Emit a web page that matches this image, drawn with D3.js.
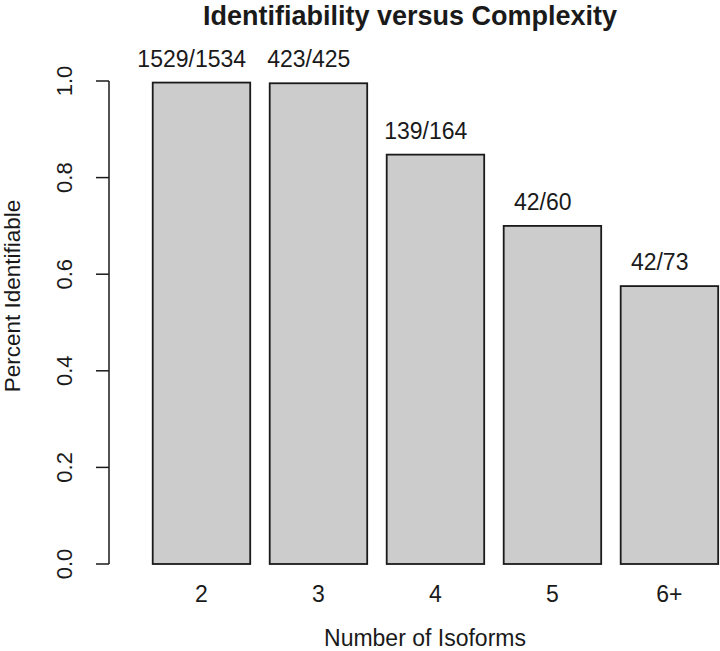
<!DOCTYPE html>
<html>
<head>
<meta charset="utf-8">
<script src="https://cdn.jsdelivr.net/npm/d3@7"></script>
<style>
  body { margin: 0; background: #fff; }
  text { font-family: "Liberation Sans", Arial, sans-serif; fill: #1a1a1a; }
</style>
</head>
<body>
<div id="chart"></div>
<script>
// chart data
const categories = ["2", "3", "4", "5", "6+"];
const identified = [1529, 423, 139, 42, 42];
const totals = [1534, 425, 164, 60, 73];
const yTicks = [0.0, 0.2, 0.4, 0.6, 0.8, 1.0];

const width = 720, height = 651;

const svg = d3.select("#chart")
    .append("svg")
    .attr("width", width)
    .attr("height", height);

// R-style barplot positions: width 1, space 0.2
const bars = categories.map((c, i) => ({
    name: c,
    left: 0.2 + 1.2 * i,
    value: identified[i] / totals[i],
    label: identified[i] + "/" + totals[i]
}));

// x domain extended 4% like R
const x = d3.scaleLinear().domain([-0.032, 6.232]).range([130.1, 740.8]);
const y = d3.scaleLinear().domain([0, 1]).range([564, 81]);

// bars
svg.append("g").selectAll("rect")
    .data(bars)
    .enter()
    .append("rect")
    .attr("x", d => x(d.left))
    .attr("y", d => y(d.value))
    .attr("width", d => x(d.left + 1) - x(d.left))
    .attr("height", d => y(0) - y(d.value))
    .attr("fill", "#cccccc")
    .attr("stroke", "#1a1a1a")
    .attr("stroke-width", 1.8);

// count labels above the bars (shifted a little left, as in the original)
svg.append("g").selectAll("text")
    .data(bars)
    .enter()
    .append("text")
    .attr("x", d => x(d.left + 0.5 - 0.1))
    .attr("y", d => y(d.value) - 16)
    .attr("text-anchor", "middle")
    .style("font-size", "23px")
    .text(d => d.label);

// category names under the bars
svg.append("g").selectAll("text")
    .data(bars)
    .enter()
    .append("text")
    .attr("x", d => x(d.left + 0.5))
    .attr("y", 602)
    .attr("text-anchor", "middle")
    .style("font-size", "23px")
    .text(d => d.name);

// y axis, R style with rotated tick labels
const yAxis = svg.append("g").attr("transform", "translate(109,0)");
yAxis.append("line")
    .attr("x1", 0).attr("x2", 0)
    .attr("y1", y(0)).attr("y2", y(1))
    .attr("stroke", "#1a1a1a")
    .attr("stroke-width", 1.5);
yAxis.selectAll(".tick")
    .data(yTicks)
    .enter()
    .append("line")
    .attr("class", "tick")
    .attr("x1", -13).attr("x2", 0)
    .attr("y1", d => y(d)).attr("y2", d => y(d))
    .attr("stroke", "#1a1a1a")
    .attr("stroke-width", 1.5);
yAxis.selectAll(".ticklabel")
    .data(yTicks)
    .enter()
    .append("text")
    .attr("class", "ticklabel")
    .attr("transform", d => "translate(-37," + y(d) + ") rotate(-90)")
    .attr("text-anchor", "middle")
    .style("font-size", "22px")
    .text(d => d3.format(".1f")(d));

// titles
svg.append("text")
    .attr("x", 410)
    .attr("y", 25)
    .attr("text-anchor", "middle")
    .style("font-size", "27px")
    .style("font-weight", "bold")
    .text("Identifiability versus Complexity");

svg.append("text")
    .attr("x", 425)
    .attr("y", 646)
    .attr("text-anchor", "middle")
    .style("font-size", "23px")
    .text("Number of Isoforms");

svg.append("text")
    .attr("transform", "translate(20,296) rotate(-90)")
    .attr("text-anchor", "middle")
    .style("font-size", "22.5px")
    .text("Percent Identifiable");
</script>
</body>
</html>
